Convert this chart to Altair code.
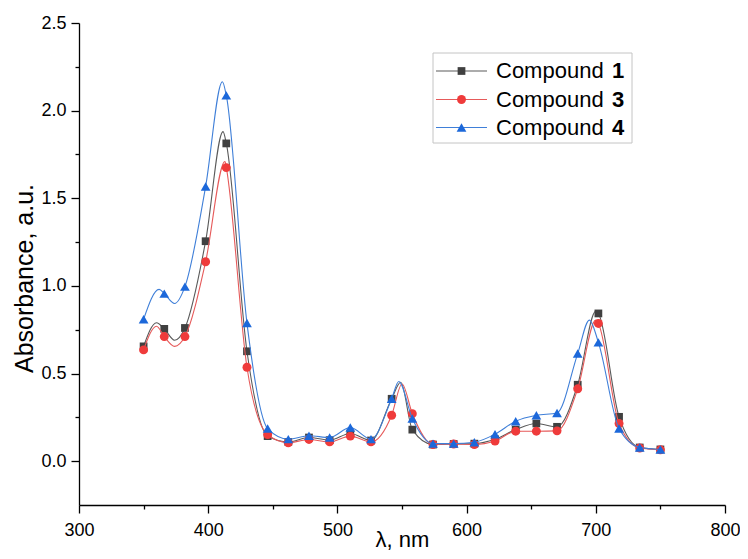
import altair as alt
import pandas as pd

# ---------------- data ----------------
wavelength = [350, 366, 382, 398, 414, 430, 446, 462, 478, 494, 510, 526, 542,
              558, 574, 590, 606, 622, 638, 654, 670, 686, 702, 718, 734, 750]

comp1 = [0.655, 0.755, 0.760, 1.255, 1.813, 0.627, 0.143, 0.110, 0.135, 0.120, 0.158, 0.118, 0.356,
         0.180, 0.095, 0.098, 0.100, 0.125, 0.180, 0.215, 0.196, 0.436, 0.843, 0.253, 0.078, 0.067]
comp3 = [0.635, 0.711, 0.711, 1.138, 1.675, 0.536, 0.152, 0.105, 0.124, 0.110, 0.143, 0.110, 0.262,
         0.271, 0.095, 0.098, 0.095, 0.115, 0.171, 0.171, 0.173, 0.413, 0.786, 0.215, 0.075, 0.065]
comp4 = [0.810, 0.956, 0.996, 1.567, 2.087, 0.788, 0.186, 0.126, 0.145, 0.135, 0.192, 0.126, 0.356,
         0.243, 0.100, 0.100, 0.108, 0.154, 0.228, 0.262, 0.275, 0.614, 0.678, 0.186, 0.078, 0.067]

# extra points of the continuous spectra (peaks / dips between the symbols)
extra1_wl = [360, 374, 411.5, 549, 700]
extra1 = [0.790, 0.690, 1.880, 0.450, 0.855]
extra3_wl = [360, 374, 413, 550, 700]
extra3 = [0.770, 0.655, 1.710, 0.440, 0.805]
extra4_wl = [362, 374, 411, 547.5, 695]
extra4 = [0.980, 0.900, 2.165, 0.455, 0.805]

series_names = ["Compound 1", "Compound 3", "Compound 4"]
series_numbers = ["1", "3", "4"]
x_ticks = [300, 350, 400, 450, 500, 550, 600, 650, 700, 750, 800]
y_ticks = [0.0, 0.25, 0.5, 0.75, 1.0, 1.25, 1.5, 1.75, 2.0, 2.25, 2.5]

# ---------------- tables ----------------
marker_sets = [comp1, comp3, comp4]
extra_sets = [(extra1_wl, extra1), (extra3_wl, extra3), (extra4_wl, extra4)]

pts_rows, line_rows = [], []
for name, vals, (ewl, evals) in zip(series_names, marker_sets, extra_sets):
    for w, v in zip(wavelength, vals):
        pts_rows.append({"series": name, "wl": w, "abs": v})
        line_rows.append({"series": name, "wl": w, "abs": v})
    for w, v in zip(ewl, evals):
        line_rows.append({"series": name, "wl": w, "abs": v})
pts_df = pd.DataFrame(pts_rows)
line_df = pd.DataFrame(line_rows).sort_values(["series", "wl"]).reset_index(drop=True)

# ---------------- styles ----------------
FONT = "Liberation Sans"
line_colors = ["#5a5a5a", "#e65a5a", "#3f7fd8"]
marker_colors = ["#404040", "#ef3b3b", "#1c68da"]
shapes = ["square", "circle", "triangle-up"]
sizes = [60, 80, 95]

x_axis = alt.Axis(
    values=x_ticks,
    labelExpr="datum.value % 100 === 0 ? datum.label : ''",
    tickSize={"condition": {"test": "datum.value % 100 === 0", "value": 8}, "value": 4},
    title="λ, nm", grid=False, domainColor="black", tickColor="black",
    domainWidth=1.3, tickWidth=1.3, labelFont=FONT, labelFontSize=18, labelColor="black",
    labelPadding=8, labelFlush=False, titleFont=FONT, titleFontSize=22, titleFontWeight="normal",
    titleColor="black", titleBaseline="alphabetic", titleY=41, titleX=323,
)
y_axis = alt.Axis(
    values=y_ticks, format=".1f",
    labelExpr="round(datum.value * 4) % 2 === 0 ? datum.label : ''",
    tickSize={"condition": {"test": "round(datum.value * 4) % 2 === 0", "value": 8}, "value": 4},
    title="Absorbance, a.u.", grid=False, domainColor="black", tickColor="black",
    domainWidth=1.3, tickWidth=1.3, labelFont=FONT, labelFontSize=18, labelColor="black",
    labelPadding=5, labelFlush=False, titleFont=FONT, titleFontSize=25, titleFontWeight="normal",
    titleColor="black", titleBaseline="alphabetic", titleX=-47, titleY=255, titleAngle=270,
)
X = alt.X("wl:Q", scale=alt.Scale(domain=[300, 800], nice=False, zero=False), axis=x_axis)
Y = alt.Y("abs:Q", scale=alt.Scale(domain=[-0.25, 2.5], nice=False, zero=False), axis=y_axis)

layers = []
for i, name in enumerate(series_names):
    line = alt.Chart(line_df).transform_filter(alt.datum.series == name).mark_line(
        color=line_colors[i], strokeWidth=1.1, interpolate="monotone"
    ).encode(x=X, y=Y)
    pts = alt.Chart(pts_df).transform_filter(alt.datum.series == name).mark_point(
        shape=shapes[i], filled=True, color=marker_colors[i], size=sizes[i], opacity=1
    ).encode(x=X, y=Y)
    layers += [line, pts]

# ---------------- legend (drawn manually for the bold numbers) ----------------
one = alt.Data(values=[{}])
layers.append(alt.Chart(one).mark_rect(fill="white", stroke="#c4c4c4", strokeWidth=1).encode(
    x=alt.value(354), x2=alt.value(553), y=alt.value(30), y2=alt.value(120)))
row_y = [48, 76.5, 104.5]
for i, name in enumerate(series_names):
    yy = row_y[i]
    layers.append(alt.Chart(one).mark_rule(color=line_colors[i], strokeWidth=1.1).encode(
        x=alt.value(357), x2=alt.value(408), y=alt.value(yy)))
    layers.append(alt.Chart(one).mark_point(shape=shapes[i], filled=True, color=marker_colors[i],
                                            size=sizes[i], opacity=1).encode(
        x=alt.value(382.5), y=alt.value(yy)))
    layers.append(alt.Chart(one).mark_text(font=FONT, fontSize=22, align="left", baseline="middle",
                                           color="black").encode(
        x=alt.value(417), y=alt.value(yy), text=alt.value("Compound")))
    layers.append(alt.Chart(one).mark_text(font=FONT, fontSize=22, fontWeight="bold", align="left",
                                           baseline="middle", color="black").encode(
        x=alt.value(533), y=alt.value(yy), text=alt.value(series_numbers[i])))

# whole svg = 732 x 543 so that, with the 8px page margin, the page fits 748 x 559 exactly
chart = alt.layer(*layers).properties(
    width=646, height=482,
    autosize=alt.AutoSizeParams(type="none"),
    padding={"left": 71, "top": 15, "right": 15, "bottom": 46},
    background="white",
).configure_view(stroke=None)

chart.save("out.html", embed_options={"renderer": "svg", "actions": False})
